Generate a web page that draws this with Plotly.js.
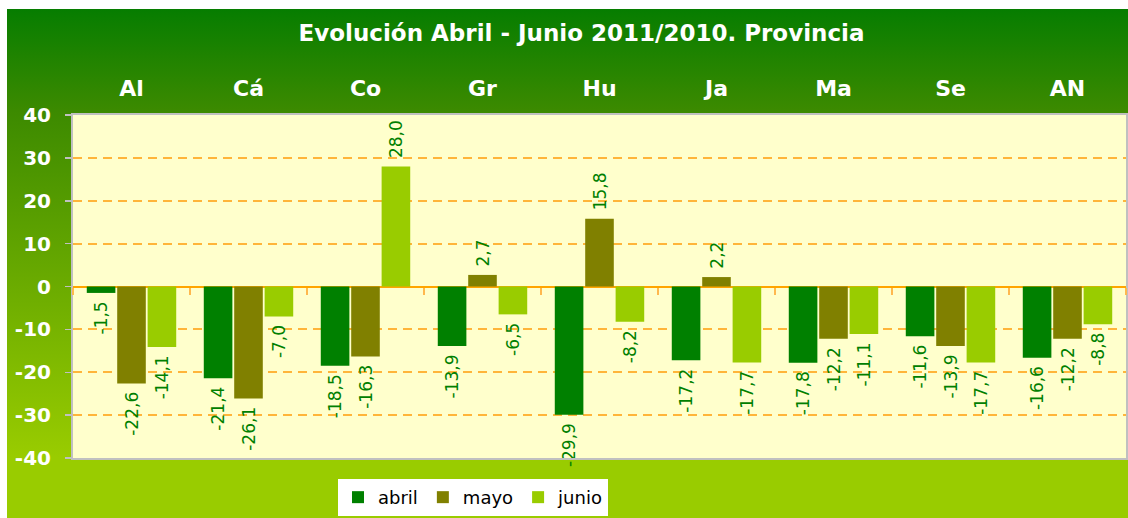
<!DOCTYPE html>
<html>
<head>
<meta charset="utf-8">
<script src="https://cdn.plot.ly/plotly-3.0.1.min.js"></script>
<style>
  html, body { margin: 0; padding: 0; background: #ffffff; width: 1128px; height: 518px; overflow: hidden; }
  #chart {
    position: absolute; left: 7px; top: 9px; width: 1121px; height: 509px;
    background: linear-gradient(to bottom, #067d00 0%, #3c8a00 20%, #99cc00 88%, #99cc00 100%);
  }
</style>
</head>
<body>
<div id="chart"></div>
<script>
const categories = ['Al', 'Cá', 'Co', 'Gr', 'Hu', 'Ja', 'Ma', 'Se', 'AN'];
const abril = [-1.5, -21.4, -18.5, -13.9, -29.9, -17.2, -17.8, -11.6, -16.6];
const mayo  = [-22.6, -26.1, -16.3, 2.7, 15.8, 2.2, -12.2, -13.9, -12.2];
const junio = [-14.1, -7.0, 28.0, -6.5, -8.2, -17.7, -11.1, -17.7, -8.8];
const seriesNames = ['abril', 'mayo', 'junio'];
const seriesColors = ['#008000', '#808000', '#99cc00'];
const yTickVals = [-40, -30, -20, -10, 0, 10, 20, 30, 40];
const yTickText = ['-40', '-30', '-20', '-10', '0', '10', '20', '30', '40'];

const fontFam = 'DejaVu Sans, Verdana, sans-serif';
const NB = '\u00a0';
const fmt = v => {
  const s = v.toFixed(1).replace('.', ',');
  return v < 0 ? s + NB : NB + s;
};

const traces = [abril, mayo, junio].map((vals, i) => ({
  type: 'bar',
  name: seriesNames[i],
  x: categories,
  y: vals,
  marker: { color: seriesColors[i] },
  text: vals.map(fmt),
  textposition: 'outside',
  textangle: -90,
  constraintext: 'none',
  cliponaxis: false,
  textfont: { family: fontFam, size: 17, color: '#008000' },
  hoverinfo: 'x+y+name'
}));

const layout = {
  width: 1121,
  height: 509,
  paper_bgcolor: 'rgba(0,0,0,0)',
  plot_bgcolor: '#ffffcc',
  margin: { l: 66, r: 2, t: 106, b: 60 },
  barmode: 'group',
  bargap: 0.22,
  bargroupgap: 0.06,
  title: {
    text: '<b>Evolución Abril - Junio 2011/2010. Provincia</b>',
    font: { family: fontFam, size: 23, color: '#ffffff' },
    x: 0.5125, xanchor: 'center', xref: 'container',
    y: 0.953, yanchor: 'middle', yref: 'container'
  },
  xaxis: {
    side: 'top',
    type: 'category',
    tickfont: { family: fontFam, size: 22, color: '#ffffff', weight: 'bold' },
    ticks: '',
    ticklabelstandoff: 8,
    showline: true, linecolor: '#c0c0c0', linewidth: 2, mirror: true,
    showgrid: false,
    zeroline: false,
    fixedrange: true
  },
  xaxis2: {
    overlaying: 'x',
    anchor: 'free',
    position: 0.5,
    type: 'linear',
    range: [-0.5, 8.5],
    tick0: -0.5, dtick: 1,
    ticks: 'outside', ticklen: 7, tickwidth: 1.5, tickcolor: '#ffb84d',
    showticklabels: false,
    showline: false, showgrid: false, zeroline: false,
    side: 'bottom'
  },
  yaxis: {
    range: [-40, 40],
    tickvals: yTickVals,
    ticktext: yTickText,
    tickfont: { family: fontFam, size: 20, color: '#ffffff', weight: 'bold' },
    ticks: 'outside', ticklen: 6, tickcolor: '#c0c0c0', tickwidth: 1.5,
    ticklabelstandoff: 10,
    showline: true, linecolor: '#c0c0c0', linewidth: 2, mirror: true,
    showgrid: true, gridcolor: '#ffb53a', gridwidth: 2, griddash: '9px,6px',
    zeroline: true, zerolinecolor: '#ffa500', zerolinewidth: 2,
    fixedrange: true
  },
  showlegend: true,
  legend: {
    orientation: 'h',
    xref: 'container', yref: 'container',
    x: 0.4157, xanchor: 'center',
    y: 0.004, yanchor: 'bottom',
    bgcolor: '#ffffff',
    font: { family: fontFam, size: 18, color: '#000000' },
    itemwidth: 30,
    tracegroupgap: 0
  }
};

// invisible helper trace so the zero-line category ticks (xaxis2) are drawn
traces.push({ type: 'scatter', x: [0], y: [0], xaxis: 'x2', yaxis: 'y', mode: 'markers',
  marker: { opacity: 0 }, showlegend: false, hoverinfo: 'skip' });

Plotly.newPlot('chart', traces, layout, { displayModeBar: false, staticPlot: true });
</script>
</body>
</html>
